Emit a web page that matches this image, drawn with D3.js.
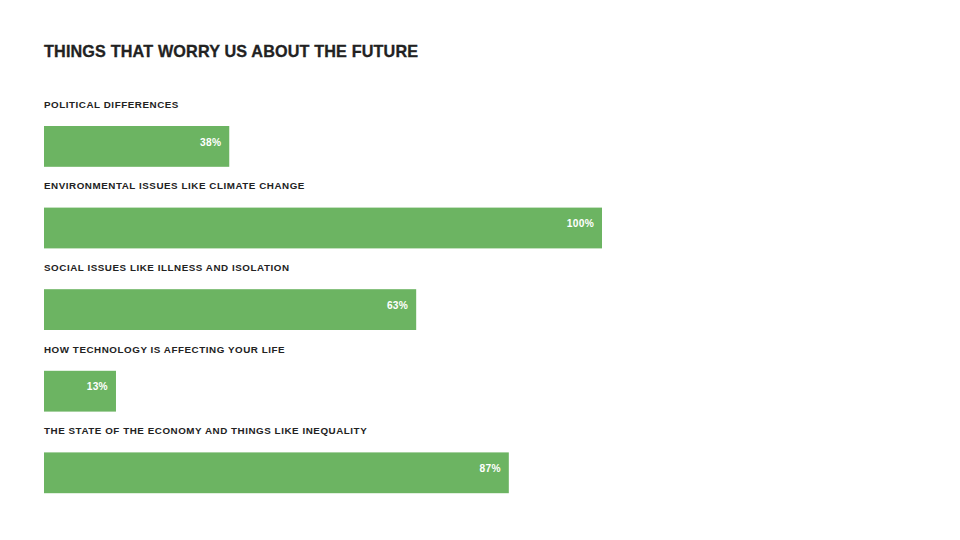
<!DOCTYPE html>
<html>
<head>
<meta charset="utf-8">
<script src="https://cdn.jsdelivr.net/npm/d3@7"></script>
<style>
  html, body { margin: 0; padding: 0; background: #fff; }
  svg { display: block; }
</style>
</head>
<body>
<svg id="chart" width="960" height="540"></svg>
<script>
const title = "THINGS THAT WORRY US ABOUT THE FUTURE";
const categories = [
  "POLITICAL DIFFERENCES",
  "ENVIRONMENTAL ISSUES LIKE CLIMATE CHANGE",
  "SOCIAL ISSUES LIKE ILLNESS AND ISOLATION",
  "HOW TECHNOLOGY IS AFFECTING YOUR LIFE",
  "THE STATE OF THE ECONOMY AND THINGS LIKE INEQUALITY"
];
// printed labels
const valueLabels = [38, 100, 63, 13, 87];
// bar lengths as drawn in the picture (share of the longest bar, %)
const barLengths = [33.2, 100, 66.7, 12.9, 83.3];

const svg = d3.select("#chart");
const font = "'Liberation Sans', Arial, sans-serif";

const x = d3.scaleLinear().domain([0, 100]).range([44, 602]);
const y = d3.scaleBand().domain(categories).range([86, 494]).paddingInner(0).paddingOuter(0);
const barTopOffset = 40;
const barH = 40.8;

svg.append("text")
  .attr("x", 44).attr("y", 56.5)
  .attr("font-family", font).attr("font-weight", 700)
  .attr("font-size", 16.2).attr("letter-spacing", 0.15)
  .attr("fill", "#222")
  .attr("stroke", "#222").attr("stroke-width", 0.3)
  .text(title);

const rows = svg.selectAll("g.row").data(categories).join("g").attr("class", "row");

rows.append("text")
  .attr("x", 44)
  .attr("y", d => y(d) + 21.8)
  .attr("font-family", font).attr("font-weight", 700)
  .attr("font-size", 9.8).attr("letter-spacing", 0.55)
  .attr("fill", "#222")
  .text(d => d);

rows.append("rect")
  .attr("x", x(0))
  .attr("y", d => y(d) + barTopOffset)
  .attr("width", (d, i) => x(barLengths[i]) - x(0))
  .attr("height", barH)
  .attr("fill", "#6cb462");

rows.append("text")
  .attr("x", (d, i) => x(barLengths[i]) - 8)
  .attr("y", d => y(d) + barTopOffset + 19.6)
  .attr("text-anchor", "end")
  .attr("font-family", font).attr("font-weight", 700)
  .attr("font-size", 10.2).attr("letter-spacing", 0.3)
  .attr("fill", "#fff")
  .text((d, i) => valueLabels[i] + "%");
</script>
</body>
</html>
